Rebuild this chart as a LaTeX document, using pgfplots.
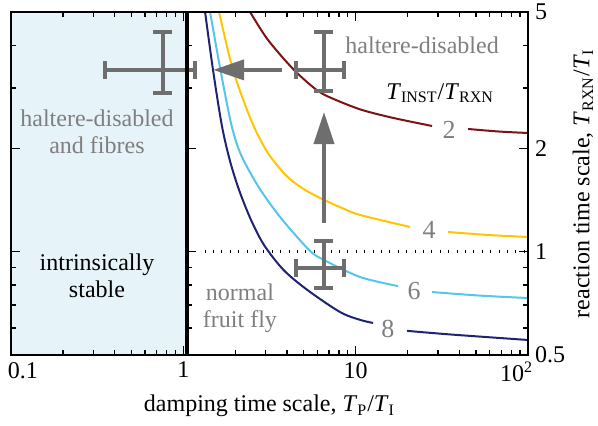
\documentclass[border=0pt]{standalone}
\usepackage{fontspec}
\setmainfont{Liberation Serif}
\usepackage{pgfplots}
\pgfplotsset{compat=1.18}
\usetikzlibrary{arrows.meta}

\definecolor{shade}{HTML}{E6F3F8}
\definecolor{cgray}{HTML}{6E6E6E}
\definecolor{tgray}{HTML}{7F7F7F}
\definecolor{cred}{HTML}{7E1315}
\definecolor{cgold}{HTML}{FFC600}
\definecolor{ccyan}{HTML}{55C5EA}
\definecolor{cnavy}{HTML}{202470}

\newcommand{\fs}{\fontsize{12}{13.5}\selectfont}

\begin{document}
\begin{tikzpicture}[font=\fs]
\useasboundingbox (-5.5pt,-35.5pt) rectangle (293.5pt,177.5pt);

% main panel, 0.1 to 100
\begin{axis}[
    at={(0,0)}, anchor=south west,
    scale only axis, width=258.5pt, height=171.5pt,
    xmode=log, ymode=log,
    xmin=0.1, xmax=100, ymin=0.5, ymax=5,
    xtick={0.1,1,10,100},
    xticklabels={\rlap{\kern-1.5pt 0.1}, 1, 10, \llap{10\textsuperscript{2}\kern-2.5pt}},
    minor xtick={0.2,0.3,0.4,0.5,0.6,0.7,0.8,0.9,2,3,4,5,6,7,8,9,20,30,40,50,60,70,80,90},
    ytick={0.5,1,2,5}, yticklabels={0.5,1,2,5},
    minor ytick={0.6,0.7,0.8,0.9,3,4},
    yticklabel pos=right, tick pos=both,
    tick align=inside,
    major tick length=4.5pt, minor tick length=2.3pt,
    every tick/.style={black, line width=0.7pt},
    axis line style={line width=1.25pt},
    tick label style={font=\fs},
    label style={font=\fs},
    axis on top,
    unbounded coords=jump,
    xlabel={damping time scale, \textit{T}\textsubscript{P}/\textit{T}\textsubscript{I}},
    ylabel={reaction time scale, \textit{T}\textsubscript{RXN}/\textit{T}\textsubscript{I}},
    ylabel near ticks, ylabel shift=-3pt,
  ]

  % intrinsically stable region
  \addplot[fill=shade, draw=none] coordinates {(0.1,0.5) (1.05,0.5) (1.05,5) (0.1,5)} -- cycle;

  % dotted reference line
  \addplot[black, line width=1.6pt, dash pattern=on 0.5pt off 3.7pt] coordinates {(1.33,1) (100,1)};

  % T_INST/T_RXN = 2
  \addplot[cred, line width=1pt, smooth] coordinates {
    (2.242,5.4) (2.439,5.0) (3.102,4.143) (4.390,3.388) (6.050,2.942) (7.697,2.769)
    (10.89,2.590) (16.60,2.454) (27.76,2.326)};
  \addplot[cred, line width=1pt, smooth] coordinates {(44.91,2.280) (67.07,2.242) (100,2.219)};

  % = 4
  \addplot[cgold, line width=1pt, smooth] coordinates {
    (1.559,5.4) (1.612,5.0) (1.943,3.388) (2.472,2.421) (3.020,1.980) (3.690,1.731)
    (4.218,1.619) (5.086,1.514) (6.382,1.425) (8.339,1.341) (10.61,1.280) (20.69,1.181)};
  \addplot[cgold, line width=1pt, smooth] coordinates {(34.38,1.142) (58.68,1.119) (100,1.104)};

  % = 6
  \addplot[ccyan, line width=1pt, smooth] coordinates {
    (1.386,5.4) (1.429,5.0) (1.642,3.388) (1.902,2.342) (2.163,1.915) (2.735,1.545)
    (3.641,1.263) (5.366,1.012) (6.555,0.946) (10.61,0.844) (17.63,0.794)};
  \addplot[ccyan, line width=1pt, smooth] coordinates {(27.76,0.763) (52.72,0.745) (100,0.733)};

  % = 8
  \addplot[cnavy, line width=1pt, smooth] coordinates {
    (1.308,5.4) (1.337,5.0) (1.487,3.388) (1.671,2.342) (1.859,1.851) (2.105,1.514)
    (2.472,1.237) (2.940,1.046) (3.815,0.885) (5.259,0.773) (8.119,0.667) (10.61,0.633) (12.62,0.620)};
  \addplot[cnavy, line width=1pt, smooth] coordinates {(19.87,0.588) (35.31,0.574) (100,0.553)};

  % measurements: bars and end caps
  \addplot[cgray, line width=2pt] coordinates {
    (0.349,3.39) (1.169,3.39) (nan,nan) (0.759,2.90) (0.759,4.36) (nan,nan)
    (0.349,3.191) (0.349,3.601) (nan,nan) (1.169,3.191) (1.169,3.601) (nan,nan)
    (0.6685,4.36) (0.8617,4.36) (nan,nan) (0.6685,2.90) (0.8617,2.90)};
  \addplot[cgray, line width=2pt] coordinates {
    (4.52,3.39) (8.58,3.39) (nan,nan) (6.55,2.95) (6.55,4.38) (nan,nan)
    (4.52,3.191) (4.52,3.601) (nan,nan) (8.58,3.191) (8.58,3.601) (nan,nan)
    (5.769,4.38) (7.436,4.38) (nan,nan) (5.769,2.95) (7.436,2.95)};
  \addplot[cgray, line width=2pt] coordinates {
    (4.50,0.894) (8.58,0.894) (nan,nan) (6.55,0.782) (6.55,1.077) (nan,nan)
    (4.50,0.8416) (4.50,0.9497) (nan,nan) (8.58,0.8416) (8.58,0.9497) (nan,nan)
    (5.769,1.077) (7.436,1.077) (nan,nan) (5.769,0.782) (7.436,0.782)};

  % arrows
  \addplot[cgray, line width=2pt, -{Triangle[length=15.5pt, width=10pt]}] coordinates {(3.74,3.39) (1.49,3.39)};
  \addplot[cgray, line width=2pt, -{Triangle[length=16pt, width=10pt]}] coordinates {(6.55,1.213) (6.55,2.555)};

  % annotations
  \node[tgray] at (axis cs:24.3,4.0) {haltere-disabled};
  \node at (axis cs:30.9,2.9) {\textit{T}\textsubscript{INST}/\textit{T}\textsubscript{RXN}};
  \node[tgray, align=center] at (axis cs:0.3155,2.23) {haltere-disabled\\and fibres};
  \node[align=center] at (axis cs:0.3155,0.85) {intrinsically\\stable};
  \node[tgray, align=center] at (axis cs:2.13,0.686) {normal\\fruit fly};
  \node[tgray, font=\fontsize{13}{14}\selectfont] at (axis cs:34.8,2.26) {2};
  \node[tgray, font=\fontsize{13}{14}\selectfont] at (axis cs:26.7,1.157) {4};
  \node[tgray, font=\fontsize{13}{14}\selectfont] at (axis cs:21.8,0.768) {6};
  \node[tgray, font=\fontsize{13}{14}\selectfont] at (axis cs:15.4,0.595) {8};
\end{axis}

% ticks along the boundary of the stable region
\begin{axis}[
    at={(88pt,0)}, anchor=south west,
    scale only axis, width=170.5pt, height=171.5pt,
    xmode=log, ymode=log,
    xmin=1.05, xmax=100, ymin=0.5, ymax=5,
    hide x axis, axis y line*=left,
    ytick={0.5,1,2,5}, yticklabels={},
    minor ytick={0.6,0.7,0.8,0.9,3,4},
    tick align=inside,
    major tick length=4.5pt, minor tick length=2.3pt,
    every tick/.style={black, line width=0.7pt},
    axis line style={-, line width=2.4pt},
  ]
\end{axis}
\end{tikzpicture}
\end{document}
